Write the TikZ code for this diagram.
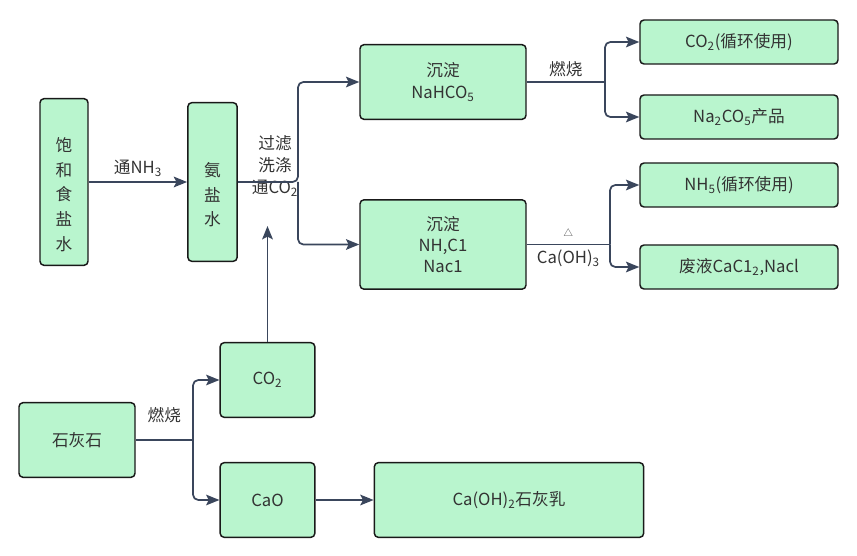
\documentclass[tikz,border=0pt]{standalone}
\usepackage{fontspec}
\setmainfont{Noto Sans CJK SC}
\usetikzlibrary{arrows.meta}
\definecolor{boxfill}{RGB}{185,245,206}
\definecolor{linecol}{RGB}{58,70,92}
\definecolor{textcol}{RGB}{51,51,51}
\tikzset{
  every node/.style={font=\fontsize{12.5}{16}\selectfont,text=textcol},
  every label/.style={font=\fontsize{12.5}{18.4}\selectfont,align=center,yshift=-9.5pt},
  box/.style={draw=black!90,fill=boxfill,rounded corners=3pt,line width=1.1pt,align=center,inner sep=2pt},
  wire/.style={draw=linecol,line width=1.3pt,rounded corners=4pt},
  arr/.style={wire,-{Stealth[length=10pt,width=8pt,inset=2pt]}},
  lbl/.style={align=center}
}

\begin{document}
\begin{tikzpicture}[x=0.75pt,y=-0.75pt]
        \useasboundingbox (0,0) rectangle (857,556);

        % boxes
        \node [box,minimum width=36pt,minimum height=125pt,label=center:{饱\\和\\食\\盐\\水}] (brine) at (64,182) {};
        \node [box,minimum width=37pt,minimum height=119pt,label=center:{氨\\盐\\水}]         (ammo)  at (212.5,182) {};
        \node [box,minimum width=124.5pt,minimum height=56pt] (nahco) at (443,82)    {沉淀\\NaHCO\textsubscript{5}};
        \node [box,minimum width=124.5pt,minimum height=67pt] (nhcl)  at (443,244.5) {沉淀\\NH,C1\\Nac1};
        \node [box,minimum width=148.5pt,minimum height=33pt] (co2r)  at (739,42)    {CO\textsubscript{2}(循环使用)};
        \node [box,minimum width=148.5pt,minimum height=33pt] (soda)  at (739,117)   {Na\textsubscript{2}CO\textsubscript{5}产品};
        \node [box,minimum width=148.5pt,minimum height=33pt] (nh5r)  at (739,185)   {NH\textsubscript{5}(循环使用)};
        \node [box,minimum width=148.5pt,minimum height=33pt] (waste) at (739,267)   {废液CaC1\textsubscript{2},Nacl};
        \node [box,minimum width=71pt,minimum height=56pt]    (co2)   at (267.5,380) {CO\textsubscript{2}};
        \node [box,minimum width=87pt,minimum height=56pt]    (lime)  at (77,440)    {石灰石};
        \node [box,minimum width=71pt,minimum height=56pt]    (cao)   at (267.5,500) {CaO};
        \node [box,minimum width=202pt,minimum height=56pt]   (milk)  at (509,500)   {Ca(OH)\textsubscript{2}石灰乳};

        % forks
        \coordinate (fork1) at (298,182);
        \coordinate (fork2) at (605,82);
        \coordinate (fork3) at (610,244.5);
        \coordinate (fork4) at (193,440);
        \coordinate (co2up) at (267.5,226);

        \node [lbl,font=\fontsize{12.5}{16.5}\selectfont] (wash) at (275,166) {过滤\\洗涤\\通CO\textsubscript{2}};

        \draw [arr] (brine) to node [above] {通NH\textsubscript{3}} (ammo);
        \draw [arr] (ammo.east) -- (fork1) |- (nahco.west);
        \draw [arr] (fork1) |- (nhcl.west);

        \draw [wire] (nahco.east) to node [above] {燃烧} (fork2);
        \draw [arr] (fork2) |- (co2r.west);
        \draw [arr] (fork2) |- (soda.west);

        \draw [wire] (nhcl.east) to node [above=2pt,font=\fontsize{7}{8}\selectfont] {△} node [below] {Ca(OH)\textsubscript{3}} (fork3);
        \draw [arr] (fork3) |- (nh5r.west);
        \draw [arr] (fork3) |- (waste.west);

        \draw [wire] (lime.east) to node [above=9pt] {燃烧} (fork4);
        \draw [arr] (fork4) |- (co2.west);
        \draw [arr] (fork4) |- (cao.west);

        \draw [arr] (co2.north) -- (co2up);
        \draw [arr] (cao) to (milk);
      \end{tikzpicture}
\end{document}
